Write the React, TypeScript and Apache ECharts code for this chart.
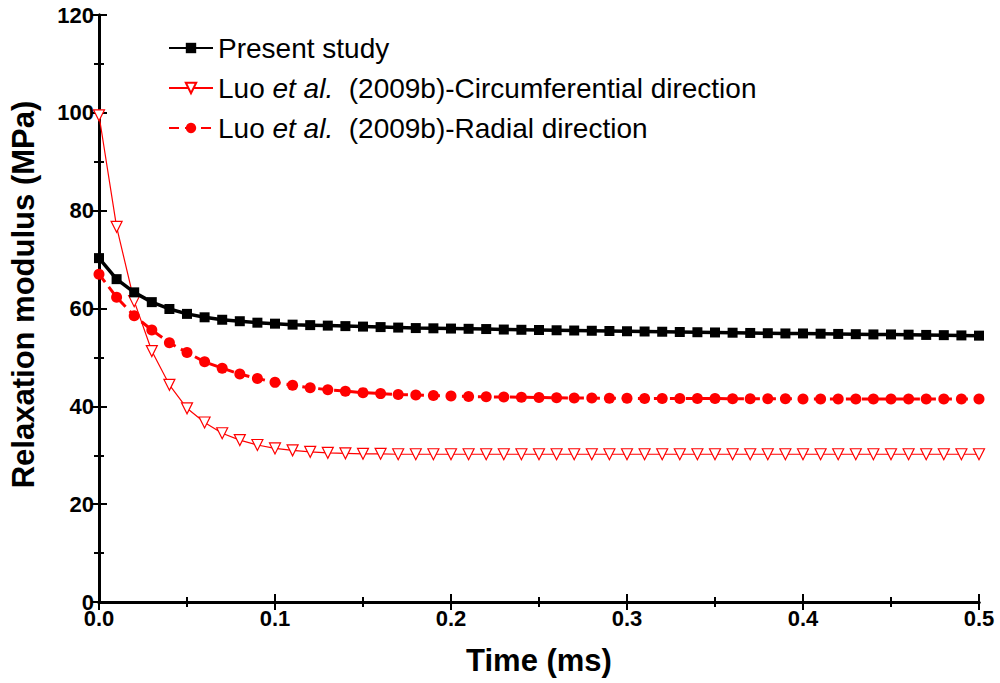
import React, { useEffect, useRef } from "react";
import * as echarts from "echarts";

const times: number[] = [
  0.0, 0.01, 0.02, 0.03, 0.04, 0.05, 0.06, 0.07, 0.08, 0.09, 0.1, 0.11, 0.12, 0.13, 0.14, 0.15, 0.16,
  0.17, 0.18, 0.19, 0.2, 0.21, 0.22, 0.23, 0.24, 0.25, 0.26, 0.27, 0.28, 0.29, 0.3, 0.31, 0.32, 0.33,
  0.34, 0.35, 0.36, 0.37, 0.38, 0.39, 0.4, 0.41, 0.42, 0.43, 0.44, 0.45, 0.46, 0.47, 0.48, 0.49, 0.5,
];

const presentStudy: number[] = [
  70.3, 66.0, 63.3, 61.3, 59.9, 58.9, 58.2, 57.7, 57.4, 57.1, 56.9, 56.7, 56.6, 56.5, 56.4, 56.3, 56.2,
  56.1, 56.0, 55.95, 55.9, 55.85, 55.8, 55.7, 55.65, 55.6, 55.55, 55.5, 55.45, 55.4, 55.35, 55.3, 55.25,
  55.2, 55.15, 55.1, 55.05, 55.0, 54.95, 54.9, 54.9, 54.85, 54.8, 54.75, 54.7, 54.7, 54.65, 54.6, 54.55,
  54.5, 54.45,
];

const circumferential: number[] = [
  99.5, 76.7, 61.5, 51.3, 44.4, 39.6, 36.7, 34.5, 33.1, 32.1, 31.4, 31.0, 30.7, 30.5, 30.4, 30.3, 30.3,
  30.2, 30.2, 30.2, 30.2, 30.2, 30.2, 30.2, 30.2, 30.2, 30.2, 30.2, 30.2, 30.2, 30.2, 30.2, 30.2, 30.2,
  30.2, 30.2, 30.2, 30.2, 30.2, 30.2, 30.2, 30.2, 30.2, 30.2, 30.2, 30.2, 30.2, 30.2, 30.2, 30.2, 30.2,
];

const radial: number[] = [
  67.0, 62.3, 58.5, 55.6, 53.0, 51.0, 49.1, 47.8, 46.6, 45.7, 44.9, 44.3, 43.8, 43.4, 43.1, 42.8, 42.6,
  42.4, 42.3, 42.2, 42.1, 42.0, 41.95, 41.9, 41.85, 41.8, 41.75, 41.7, 41.7, 41.65, 41.65, 41.6, 41.6,
  41.6, 41.6, 41.6, 41.55, 41.55, 41.55, 41.55, 41.5, 41.5, 41.5, 41.5, 41.5, 41.5, 41.5, 41.5, 41.5,
  41.5, 41.5,
];

const seriesNames = ["Present study", "Circumferential", "Radial"];
const legendLabels: Record<string, string> = {
  "Present study": "Present study",
  Circumferential: "Luo {i|et al.}  (2009b)-Circumferential direction",
  Radial: "Luo {i|et al.}  (2009b)-Radial direction",
};

const FONT = "'Liberation Sans', Arial, sans-serif";

export default function App() {
  const ref = useRef<HTMLDivElement>(null);
  useEffect(() => {
    if (!ref.current) return;
    const chart = echarts.init(ref.current, undefined, { renderer: "svg" });
    const pair = (ys: number[]) => times.map((t, i) => [t, ys[i]]);
    const tickStyle = { color: "#000", width: 2 };
    chart.setOption({
      animation: false,
      backgroundColor: "#fff",
      textStyle: { fontFamily: FONT },
      grid: { left: 97, right: 21, top: 15, bottom: 81 },
      legend: {
        orient: "vertical",
        left: 163,
        top: 29,
        itemWidth: 44,
        itemHeight: 13,
        itemGap: 12,
        data: seriesNames,
        formatter: (name: string) => legendLabels[name],
        textStyle: {
          fontFamily: FONT,
          fontSize: 28,
          color: "#000",
          rich: { i: { fontStyle: "italic", fontSize: 28, fontFamily: FONT, color: "#000" } },
        },
      },
      xAxis: [
        {
          type: "value",
          min: 0,
          max: 0.5,
          interval: 0.1,
          position: "bottom",
          name: "Time (ms)",
          nameLocation: "middle",
          nameGap: 43,
          nameTextStyle: { fontSize: 31, fontWeight: "bold", color: "#000", fontFamily: FONT },
          axisLine: { lineStyle: { color: "#000", width: 3 } },
          axisTick: { inside: true, length: 8, lineStyle: tickStyle },
          minorTick: { show: true, splitNumber: 2, length: 5, lineStyle: tickStyle },
          splitLine: { show: false },
          axisLabel: {
            fontSize: 22,
            fontWeight: "bold",
            color: "#000",
            margin: 5,
            fontFamily: FONT,
            formatter: (v: number) => v.toFixed(1),
          },
        },
        {
          type: "value",
          min: 0,
          max: 0.5,
          interval: 0.1,
          position: "top",
          axisLine: { lineStyle: { color: "#000", width: 3 } },
          axisTick: { inside: true, length: 8, lineStyle: tickStyle },
          minorTick: { show: true, splitNumber: 2, length: 5, lineStyle: tickStyle },
          splitLine: { show: false },
          axisLabel: { show: false },
        },
      ],
      yAxis: [
        {
          type: "value",
          min: 0,
          max: 120,
          interval: 20,
          position: "left",
          name: "Relaxation modulus (MPa)",
          nameLocation: "middle",
          nameGap: 60,
          nameTextStyle: {
            fontSize: 31,
            fontWeight: "bold",
            color: "#000",
            fontFamily: FONT,
            padding: [0, 0, 0, 28],
          },
          axisLine: { lineStyle: { color: "#000", width: 3 } },
          axisTick: { inside: true, length: 8, lineStyle: tickStyle },
          minorTick: { show: true, splitNumber: 2, length: 5, lineStyle: tickStyle },
          splitLine: { show: false },
          axisLabel: { fontSize: 22, fontWeight: "bold", color: "#000", margin: 5, fontFamily: FONT },
        },
        {
          type: "value",
          min: 0,
          max: 120,
          interval: 20,
          position: "right",
          axisLine: { lineStyle: { color: "#000", width: 3 } },
          axisTick: { inside: true, length: 8, lineStyle: tickStyle },
          minorTick: { show: true, splitNumber: 2, length: 5, lineStyle: tickStyle },
          splitLine: { show: false },
          axisLabel: { show: false },
        },
      ],
      series: [
        {
          name: seriesNames[0],
          type: "line",
          data: pair(presentStudy),
          clip: false,
          symbol: "rect",
          symbolSize: 10,
          itemStyle: { color: "#000" },
          lineStyle: { color: "#000", width: 3.5 },
          z: 3,
        },
        {
          name: seriesNames[1],
          type: "line",
          data: pair(circumferential),
          clip: false,
          symbol: "triangle",
          symbolRotate: 180,
          symbolSize: 11,
          showAllSymbol: true,
          itemStyle: { color: "#fff", borderColor: "#ff0000", borderWidth: 1.2 },
          lineStyle: { color: "#ff0000", width: 1.2 },
          z: 2,
        },
        {
          name: seriesNames[2],
          type: "line",
          data: pair(radial),
          clip: false,
          symbol: "circle",
          symbolSize: 11,
          showAllSymbol: true,
          itemStyle: { color: "#ff0000" },
          lineStyle: { color: "#ff0000", width: 3, type: [10, 6] },
          z: 2,
        },
      ],
    });
    return () => chart.dispose();
  }, []);
  return (
    <div
      ref={ref}
      style={{ position: "fixed", left: 0, top: 0, width: 1000, height: 683, background: "#fff" }}
    />
  );
}
